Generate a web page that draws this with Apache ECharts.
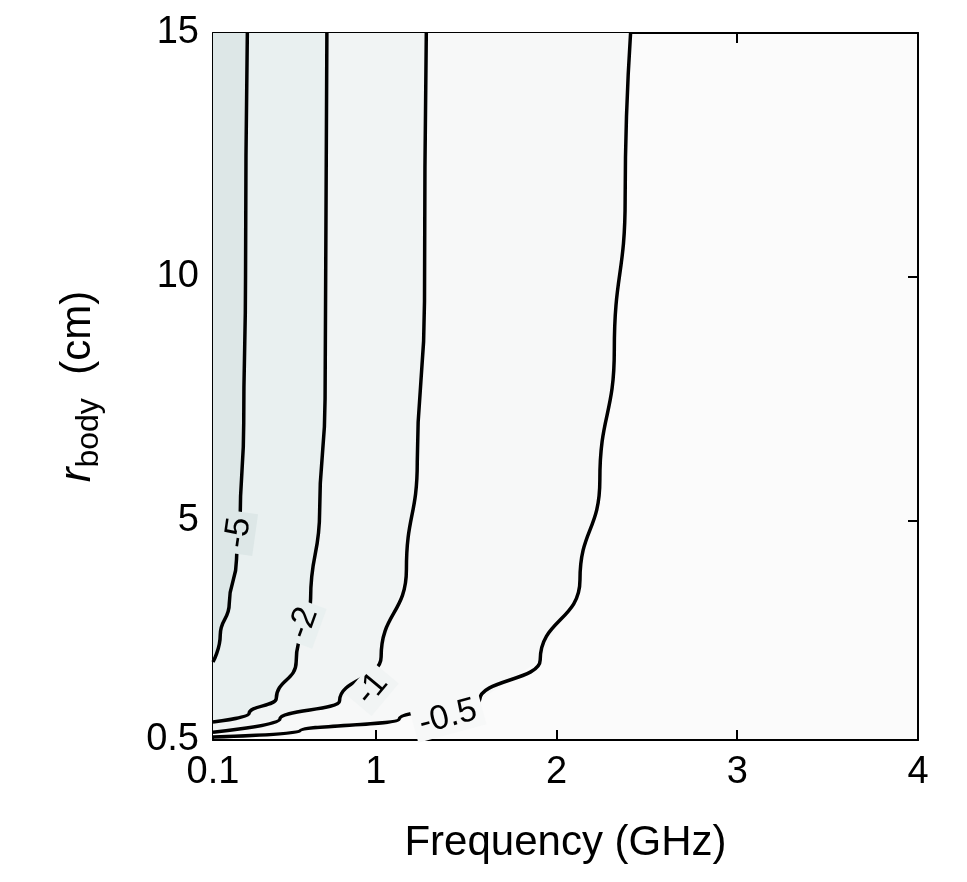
<!DOCTYPE html>
<html><head><meta charset="utf-8">
<script src="https://cdn.jsdelivr.net/npm/echarts@6/dist/echarts.min.js"></script>
<style>html,body{margin:0;background:#fff}#c{width:967px;height:882px}</style>
</head><body><div id="c"></div>
<script>
// contour lines, [frequency GHz, r_body cm]
var c5 = [[0.1,2.1],[0.14,2.65],[0.19,3.3],[0.23,4.2],[0.25,5],[0.27,7],[0.28,10],[0.29,15]];
var c2 = [[0.1,0.87],[0.3,1.05],[0.45,1.35],[0.56,2.1],[0.64,3.4],[0.69,5.2],[0.72,7.5],[0.73,15]];
var c1 = [[0.1,0.66],[0.47,0.93],[0.8,1.3],[1.03,2.2],[1.17,4.0],[1.23,6.2],[1.27,9.5],[1.28,15]];
var c05 = [[0.1,0.56],[0.58,0.68],[1.13,0.93],[1.575,1.32],[1.91,2.14],[2.13,3.78],[2.24,5.83],[2.32,8.5],[2.38,11.6],[2.41,15]];
var levels = ['-5','-2','-1','-0.5'];
var fills = ['#dde7e7','#e9f0f0','#f1f4f4','#f7f8f8'];
var bgFill = '#fbfbfb';
// label [x, y, rotation deg]
var labelPos = [[0.24,4.75,82],[0.6,2.9,70],[0.98,1.55,50],[1.4,0.97,15]];
var xTicks = [0.1,1,2,3,4];
var yTicks = [0.5,5,10,15];

var lines = [c5, c2, c1, c05];
var chart = echarts.init(document.getElementById('c'));

function polyFill(idx) {
  return {
    type: 'custom', silent: true, z: 1,
    renderItem: function (params, api) {
      var pts = lines[idx].map(function (p) { return api.coord(p); });
      pts.push(api.coord([0.1, 15]));
      return { type: 'polygon', shape: { points: pts, smooth: 0 }, style: { fill: fills[idx] } };
    },
    data: [0]
  };
}

var series = [{
  type: 'custom', silent: true, z: 0,
  renderItem: function (params, api) {
    var a = api.coord([0.1, 15]), b = api.coord([4, 0.5]);
    return { type: 'rect', shape: { x: a[0], y: a[1], width: b[0] - a[0], height: b[1] - a[1] }, style: { fill: bgFill } };
  },
  data: [0]
}];
for (var i = 3; i >= 0; i--) series.push(polyFill(i));
lines.forEach(function (l) {
  series.push({ type: 'line', data: l, smooth: 0.5, smoothMonotone: 'y', showSymbol: false, z: 3,
    lineStyle: { color: '#000', width: 3.5 } });
});
series.push({
  type: 'custom', z: 5, silent: true,
  renderItem: function (params, api) {
    var i = params.dataIndex;
    var p = api.coord([labelPos[i][0], labelPos[i][1]]);
    return { type: 'text', x: p[0], y: p[1], rotation: labelPos[i][2] * Math.PI / 180,
      style: { text: levels[i], fill: '#000', font: '34px "Liberation Sans"', align: 'center', verticalAlign: 'middle',
        backgroundColor: fills[i], padding: [0, 6] } };
  },
  data: labelPos.map(function (p) { return p; })
});

var axisFont = { color: '#000', fontSize: 38, fontFamily: 'Liberation Sans' };
var option = {
  animation: false,
  grid: { left: 213, right: 49, top: 33, bottom: 142 },
  xAxis: [{
    type: 'value', min: 0.1, max: 4,
    name: 'Frequency (GHz)', nameLocation: 'middle', nameGap: 82,
    nameTextStyle: { color: '#000', fontSize: 42, fontFamily: 'Liberation Sans' },
    axisLine: { lineStyle: { color: '#000', width: 2 } },
    axisTick: { inside: true, length: 10, customValues: xTicks, lineStyle: { color: '#000', width: 2 } },
    axisLabel: Object.assign({ customValues: xTicks, margin: 14 }, axisFont),
    splitLine: { show: false }
  }, {
    type: 'value', min: 0.1, max: 4, position: 'top',
    axisLine: { lineStyle: { color: '#000', width: 2 } },
    axisTick: { inside: true, length: 10, customValues: xTicks, lineStyle: { color: '#000', width: 2 } },
    axisLabel: { show: false }, splitLine: { show: false }
  }],
  yAxis: [{
    type: 'value', min: 0.5, max: 15,
    name: '{i|r}{s|body}  (cm)', nameLocation: 'middle', nameGap: 108, nameRotate: 90,
    nameTextStyle: { color: '#000', fontSize: 42, fontFamily: 'Liberation Sans',
      rich: { i: { fontSize: 44, fontStyle: 'italic', fontFamily: 'Liberation Sans' },
              s: { fontSize: 32, fontFamily: 'Liberation Sans', verticalAlign: 'bottom', padding: [22, 0, 0, 0] } } },
    axisLine: { lineStyle: { color: '#000', width: 2 } },
    axisTick: { inside: true, length: 10, customValues: yTicks, lineStyle: { color: '#000', width: 2 } },
    axisLabel: Object.assign({ customValues: yTicks, margin: 14 }, axisFont),
    splitLine: { show: false }
  }, {
    type: 'value', min: 0.5, max: 15, position: 'right',
    axisLine: { lineStyle: { color: '#000', width: 2 } },
    axisTick: { inside: true, length: 10, customValues: yTicks, lineStyle: { color: '#000', width: 2 } },
    axisLabel: { show: false }, splitLine: { show: false }
  }],
  series: series
};
chart.setOption(option);
</script></body></html>
